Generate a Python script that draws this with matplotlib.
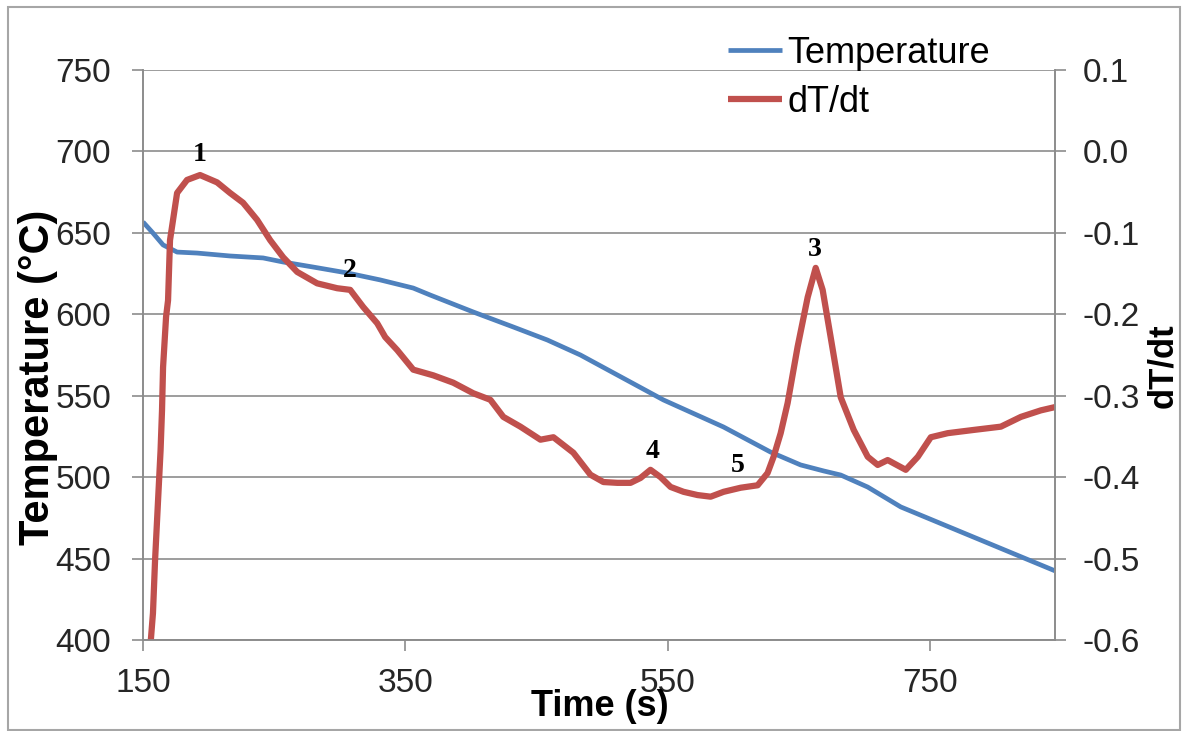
import matplotlib
matplotlib.use("Agg")
import matplotlib.pyplot as plt
from matplotlib.patches import Rectangle

plt.rcParams['font.family'] = ['Liberation Sans', 'DejaVu Sans']

# Temperature curve (left axis)
temp_time = [150, 157.6, 165.3, 176.0, 191.2, 216.4, 241.6, 256.9, 279.8, 305.7,
             330.9, 356.1, 369.1, 401.9, 432.4, 458.4, 483.6, 546.9, 592.7, 628.6,
             651.5, 669.1, 682.1, 702.7, 727.9, 845.4]
temp_vals = [656.7, 649.9, 642.6, 638.2, 637.6, 635.8, 634.6, 632.1, 629.0, 625.4,
             621.1, 616.1, 611.8, 601.4, 592.2, 584.2, 575.0, 547.4, 530.8, 515.4,
             507.5, 503.8, 501.3, 493.9, 481.7, 442.5]

# dT/dt curve (right axis)
rate_time = [155.0, 157.6, 159.2, 161.5, 163.4, 164.5, 165.3, 167.6, 169.1, 170.6,
             176.0, 183.6, 193.5, 206.5, 216.4, 226.3, 237.0, 247.0, 256.9, 267.6,
             282.8, 298.1, 308.0, 317.9, 328.6, 334.7, 343.9, 356.1, 371.4, 386.6,
             401.9, 414.9, 424.8, 437.8, 453.1, 463.0, 478.2, 491.2, 501.1, 511.8,
             521.8, 529.4, 537.0, 544.7, 552.3, 562.2, 572.9, 582.9, 592.8, 605.8,
             618.7, 626.3, 630.9, 636.3, 641.6, 649.2, 656.9, 663.0, 668.3, 674.4,
             682.1, 692.0, 702.7, 710.3, 717.9, 722.5, 731.7, 740.9, 750.8, 763.7,
             783.6, 804.2, 819.5, 834.7, 845.4]
rate_vals = [-0.62, -0.567, -0.502, -0.428, -0.367, -0.318, -0.265, -0.203, -0.183, -0.109,
             -0.051, -0.035, -0.029, -0.038, -0.051, -0.063, -0.084, -0.109, -0.130, -0.148,
             -0.162, -0.168, -0.170, -0.191, -0.211, -0.228, -0.244, -0.268, -0.275, -0.284,
             -0.297, -0.305, -0.326, -0.338, -0.354, -0.351, -0.370, -0.397, -0.406, -0.407,
             -0.407, -0.401, -0.391, -0.400, -0.412, -0.418, -0.422, -0.424, -0.418, -0.413,
             -0.410, -0.395, -0.375, -0.346, -0.309, -0.240, -0.179, -0.143, -0.170, -0.228,
             -0.302, -0.342, -0.375, -0.385, -0.379, -0.383, -0.391, -0.375, -0.351, -0.346,
             -0.342, -0.338, -0.326, -0.318, -0.314]

# numbered event labels (time, dT/dt)
event_labels = ['1', '2', '3', '4', '5']
event_time = [193.5, 308.0, 662.2, 538.6, 603.5]
event_rate = [-0.004, -0.146, -0.121, -0.369, -0.386]

x_ticks = [150, 350, 550, 750]

blue = '#4F81BD'
red = '#C0504D'
grid_col = '#8C8C8C'
txt_col = '#262626'

fig = plt.figure(figsize=(11.83, 7.31), dpi=100)
ax = fig.add_axes([143/1183, 1 - 640/731, (1055-143)/1183, (640-70)/731])
ax2 = ax.twinx()

l1, = ax.plot(temp_time, temp_vals, color=blue, lw=3.4, solid_capstyle='butt')
l2, = ax2.plot(rate_time, rate_vals, color=red, lw=4.5, solid_capstyle='butt')
ax2.set_zorder(ax.get_zorder() + 1)
ax.set_zorder(ax2.get_zorder() - 1)

ax.set_xlim(150, 845.5)
ax.set_ylim(400, 750)
ax2.set_ylim(-0.6, 0.1)
ax.set_xticks(x_ticks)
ax.set_yticks(range(400, 751, 50))
ax2.set_yticks([-0.6, -0.5, -0.4, -0.3, -0.2, -0.1, 0.0, 0.1])
ax2.set_yticklabels(['-0.6', '-0.5', '-0.4', '-0.3', '-0.2', '-0.1', '0.0', '0.1'])

ax.grid(axis='y', color=grid_col, lw=1.2)
ax.set_axisbelow(True)

for a in (ax, ax2):
    for s in a.spines.values():
        s.set_color(grid_col)
        s.set_linewidth(1.2)
    a.spines['top'].set_visible(False)

ax.tick_params(axis='x', length=8, width=1.2, color=grid_col, pad=12,
               labelsize=24, labelcolor=txt_col)
ax.tick_params(axis='y', length=8, width=1.2, color=grid_col, pad=15,
               labelsize=24, labelcolor=txt_col)
ax2.tick_params(axis='y', length=8, width=1.2, color=grid_col, pad=12,
                labelsize=24, labelcolor=txt_col)

for lab, t, r in zip(event_labels, event_time, event_rate):
    ax2.text(t, r, lab, ha='center', va='center', fontsize=20, fontweight='bold',
             family=['Liberation Serif', 'DejaVu Serif'], color='black')

fig.text(600/1183, 1 - 706/731, 'Time (s)', ha='center', va='center',
         fontsize=26, fontweight='bold', color='black')
fig.text(38/1183, 1 - 377/731, 'Temperature (°C)', ha='center', va='center',
         rotation=90, fontsize=30, fontweight='bold', color='black')
fig.text(1163/1183, 1 - 366/731, 'dT/dt', ha='center', va='center',
         rotation=90, fontsize=25, fontweight='bold', color='black')

fig.legend([l1, l2], ['Temperature', 'dT/dt'], loc='upper left',
           bbox_to_anchor=(728/1183, 1 - 36/731), frameon=False, fontsize=26,
           handlelength=1.5, handletextpad=0.15, labelspacing=0.38, borderpad=0,
           borderaxespad=0)

fig.patches.append(Rectangle((8/1183, 1/731), 1172/1183, 723/731, transform=fig.transFigure,
                             fill=False, edgecolor='#A6A6A6', lw=1.5))

fig.savefig('out.png', dpi=100)
